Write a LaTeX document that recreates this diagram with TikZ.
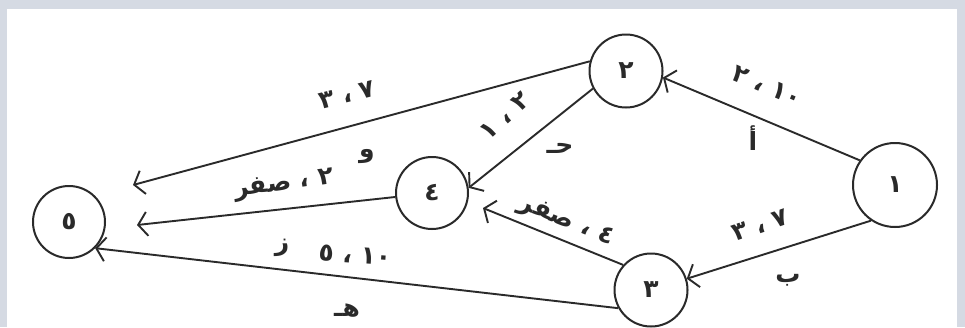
\documentclass[tikz,border=0pt]{standalone}
\usepackage{fontspec}
\newfontfamily\arabicfont[Script=Arabic]{DejaVu Sans}
\TeXXeTstate=1
\usetikzlibrary{arrows.meta}
\definecolor{framecol}{HTML}{D5DAE3}
\definecolor{ink}{HTML}{2A2A2A}
\tikzset{
  evt/.style={circle, draw=ink, line width=2pt, minimum size=73pt, inner sep=0pt,
              text=ink, font=\arabicfont\bfseries\fontsize{25}{28}\selectfont},
  lbl/.style={inner sep=0pt, text=ink, font=\arabicfont\bfseries\fontsize{25}{28}\selectfont},
  act/.style={draw=ink, line width=1.9pt,
              -{Straight Barb[length=9pt,width=24pt,line width=1.9pt]}},
}
\begin{document}
\begin{tikzpicture}[x=1pt,y=-1pt]
\useasboundingbox (0,0) rectangle (965,327);
\fill[framecol] (0,0) rectangle (965,327);
\fill[white] (7,9) rectangle (957,327);

\node[evt, minimum size=84pt] (n1) at (895,185) {\beginR ١\endR};
\node[evt] (n2) at (626,71) {\beginR ٢\endR};
\node[evt] (n3) at (651,290) {\beginR ٣\endR};
\node[evt, minimum size=72pt] (n4) at (432,193) {\beginR ٤\endR};
\node[evt, minimum size=72pt] (n5) at (69,222) {\beginR ٥\endR};

\coordinate (t25) at (133,185);
\coordinate (t45) at (137,225);
\coordinate (t34) at (483,208);

\draw[act] (n1.145) -- (n2.-10);
\draw[act] (n1.236) -- (n3);
\draw[act] (n2.165) -- (t25);
\draw[act] (n2.208) -- (n4.8);
\draw[act] (n3.138) -- (t34);
\draw[act] (n3.209) -- (n5.-45);
\draw[act] (n4) -- (t45);

\node[lbl, rotate=-23] (l12) at (767,86) {\beginR ١٠ ، ٢\endR};
\node[lbl] (la) at (753,138) {\beginR أ\endR};
\node[lbl, rotate=19] (l13) at (760,225) {\beginR ٧ ، ٣\endR};
\node[lbl] (lb) at (788,280) {\beginR ب\endR};
\node[lbl, rotate=14] (l25) at (347,95) {\beginR ٧ ، ٣\endR};
\node[lbl] (lw) at (367,157) {\beginR و\endR};
\node[lbl, rotate=42] (l24) at (505,116) {\beginR ٢ ، ١\endR};
\node[lbl] (lj) at (560,148) {\beginR حـ\endR};
\node[lbl, rotate=-22] (l34) at (566,222) {\beginR ٤ ، صفر\endR};
\node[lbl, rotate=8] (l45) at (284,185) {\beginR ٢ ، صفر\endR};
\node[lbl] (lz) at (282,248) {\beginR ز\endR};
\node[lbl, rotate=-4] (l35) at (355,255) {\beginR ١٠ ، ٥\endR};
\node[lbl] (lh) at (347,311) {\beginR هـ\endR};
\end{tikzpicture}
\end{document}
